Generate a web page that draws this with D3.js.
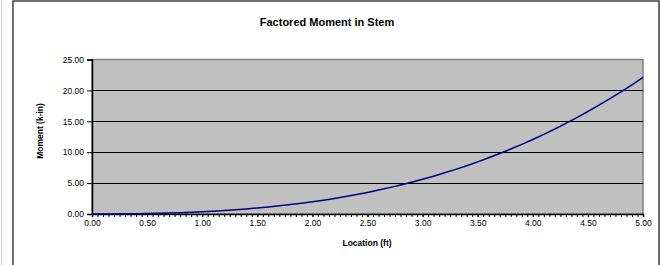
<!DOCTYPE html>
<html><head><meta charset="utf-8">
<script src="https://cdn.jsdelivr.net/npm/d3@7/dist/d3.min.js"></script>
<style>html,body{margin:0;padding:0;background:#fff;}svg{display:block;font-family:"Liberation Sans",Arial,sans-serif;}</style>
</head><body><svg id="c" width="661" height="265"></svg>
<script>
const title = "Factored Moment in Stem";
const xTitle = "Location (ft)";
const yTitle = "Moment (k-in)";
const locations = [0.0,0.1,0.2,0.3,0.4,0.5,0.6,0.7,0.8,0.9,1.0,1.1,1.2,1.3,1.4,1.5,1.6,1.7,1.8,1.9,2.0,2.1,2.2,2.3,2.4,2.5,2.6,2.7,2.8,2.9,3.0,3.1,3.2,3.3,3.4,3.5,3.6,3.7,3.8,3.9,4.0,4.1,4.2,4.3,4.4,4.5,4.6,4.7,4.8,4.9,5.0];
const moments = [0.00,0.00,0.01,0.03,0.05,0.08,0.11,0.16,0.22,0.28,0.36,0.46,0.56,0.68,0.82,0.97,1.13,1.32,1.52,1.74,1.98,2.24,2.52,2.82,3.15,3.49,3.87,4.27,4.69,5.14,5.62,6.12,6.66,7.22,7.82,8.44,9.10,9.79,10.51,11.27,12.06,12.89,13.76,14.66,15.60,16.59,17.61,18.67,19.77,20.91,22.10];
const xTickLabels = [0,0.5,1,1.5,2,2.5,3,3.5,4,4.5,5];
const xMinorTicks = d3.range(0, 101).map(i => i * 0.05);
const yTickLabels = [0,5,10,15,20,25];

const svg = d3.select("#c");
const L = 92, R = 643, T = 59.5, B = 214;
const x = d3.scaleLinear().domain([0,5]).range([L,R]);
const y = d3.scaleLinear().domain([0,25]).range([B,T]);

// outer frame
svg.append("line").attr("x1",1.5).attr("x2",1.5).attr("y1",0).attr("y2",265).attr("stroke","#d0d0d0").attr("stroke-width",1);
svg.append("rect").attr("x",13).attr("y",1).attr("width",646).attr("height",280).attr("fill","#fff").attr("stroke","#222").attr("stroke-width",1.3);

// plot area
svg.append("rect").attr("x",L).attr("y",T).attr("width",R-L).attr("height",B-T).attr("fill","#c0c0c0").attr("stroke","#808080").attr("stroke-width",1.5);

// gridlines
svg.append("g").selectAll("line").data(yTickLabels.filter(v=>v>0 && v<25)).join("line")
  .attr("x1",L).attr("x2",R).attr("y1",d=>Math.round(y(d))+0.5).attr("y2",d=>Math.round(y(d))+0.5)
  .attr("stroke","#000").attr("stroke-width",1);

// y axis
const yAxis = d3.axisLeft(y).tickValues(yTickLabels).tickFormat(d3.format(".2f")).tickSize(5).tickPadding(3);
const gy = svg.append("g").attr("transform",`translate(${L},0)`).call(yAxis);
gy.select(".domain").attr("stroke","#000").attr("stroke-width",1.5);
gy.selectAll(".tick line").attr("stroke","#000");
gy.selectAll("text").attr("font-size",8.5).attr("fill","#000").attr("font-family","Liberation Sans, Arial, sans-serif");

// x axis minor ticks
const xAxisMinor = d3.axisBottom(x).tickValues(xMinorTicks).tickFormat("").tickSize(3);
const gxm = svg.append("g").attr("transform",`translate(0,${B})`).call(xAxisMinor);
gxm.select(".domain").remove();
gxm.selectAll(".tick line").attr("stroke","#000");

const xAxis = d3.axisBottom(x).tickValues(xTickLabels).tickFormat(d3.format(".2f")).tickSize(3).tickPadding(3);
const gx = svg.append("g").attr("transform",`translate(0,${B})`).call(xAxis);
gx.select(".domain").attr("stroke","#000").attr("stroke-width",1.5);
gx.selectAll(".tick line").attr("stroke","#000");
gx.selectAll("text").attr("font-size",8.5).attr("fill","#000").attr("font-family","Liberation Sans, Arial, sans-serif");

// line
const line = d3.line().x((d,i)=>x(locations[i])).y(d=>y(d));
svg.append("path").datum(moments).attr("d",line).attr("fill","none").attr("stroke","#000080").attr("stroke-width",1.5);

// titles
svg.append("text").attr("x",327).attr("y",26).attr("text-anchor","middle").attr("font-size",11).attr("font-weight","bold").text(title);
svg.append("text").attr("x",367).attr("y",246).attr("text-anchor","middle").attr("font-size",8.5).attr("font-weight","bold").text(xTitle);
svg.append("text").attr("transform","translate(43,131) rotate(-90)").attr("text-anchor","middle").attr("font-size",8.5).attr("font-weight","bold").text(yTitle);
</script></body></html>
